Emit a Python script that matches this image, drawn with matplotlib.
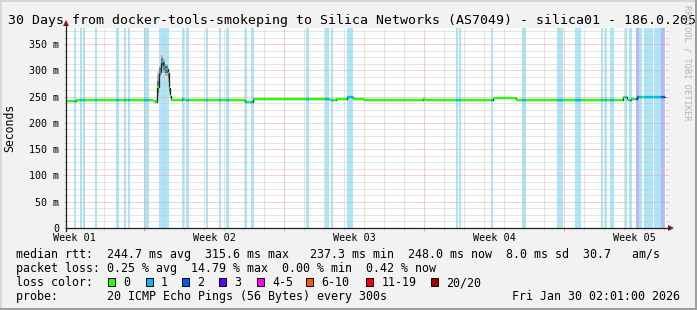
import matplotlib
matplotlib.use('Agg')
import matplotlib.pyplot as plt
from matplotlib.patches import Rectangle, Polygon
from matplotlib.lines import Line2D
import numpy as np

# ---------------- data ----------------
title = "30 Days from docker-tools-smokeping to Silica Networks (AS7049) - silica01 - 186.0.205"
y_ticks = [0, 50, 100, 150, 200, 250, 300, 350]
y_tick_labels = ["0", "50 m", "100 m", "150 m", "200 m", "250 m", "300 m", "350 m"]
week_labels = ["Week 01", "Week 02", "Week 03", "Week 04", "Week 05"]
week_label_days = [0.43, 7.43, 14.43, 21.43, 28.43]
week_line_days = [3.92, 10.92, 17.92, 24.92]

# median rtt (ms), step breakpoints, x in days since start of the 30-day window
median_days = [0.0, 0.5, 1.6, 1.85, 2.5, 2.9, 3.25, 3.7, 3.95, 4.365, 4.465,
               4.565, 4.665, 4.75, 4.865, 4.95, 5.085, 5.15, 5.2, 5.25,
               5.8, 5.925, 7.2, 8.95, 9.35, 10.1, 12.95, 13.2, 13.5, 14.05,
               14.365, 14.875, 17.85, 17.95, 21.35, 22.5, 27.85, 28.05, 28.25,
               28.55, 29.97]
median_ms = [242.5, 244.3, 243.6, 244.3, 244.0, 243.6, 244.2, 243.0, 243.7, 242.4, 240.0,
             267.8, 297.5, 315.6, 307.0, 302.0, 294.5, 266.0, 251.3, 243.3,
             246.0, 243.3, 244.2, 239.3, 245.0, 246.1, 244.8, 243.3, 246.1, 249.5,
             246.5, 244.2, 244.9, 244.2, 248.1, 244.2, 250.0, 243.3, 246.1,
             249.5, 249.0]

# smoke (spread of the 20 pings) around the latency spike
smoke_days = [4.465, 4.565, 4.665, 4.75, 4.865, 4.95, 5.085, 5.15, 5.2, 5.25]
smoke_lo = [238, 243, 282, 301, 290, 284, 270, 252, 245, 242]
smoke_hi = [246, 300, 314, 335, 329, 316, 300, 276, 256, 246]

# packet-loss periods (days) and number of lost pings
loss_start = [0.40, 0.70, 0.85, 1.45, 2.50, 2.90, 3.10, 3.90, 4.65, 5.80, 6.00,
              7.00, 7.65, 8.00, 8.95, 9.25, 12.00, 12.95, 13.25, 14.05,
              19.50, 19.65, 21.25, 22.80, 24.55, 25.45, 26.75, 26.95, 27.20,
              27.95, 28.15, 28.50, 28.65, 28.90, 29.40, 29.75]
loss_end = [0.50, 0.80, 0.925, 1.55, 2.65, 3.00, 3.20, 4.15, 5.15, 5.90, 6.15,
            7.10, 7.75, 8.15, 9.05, 9.40, 12.15, 13.15, 13.35, 14.35,
            19.60, 19.75, 21.35, 23.00, 24.85, 25.75, 26.85, 27.05, 27.40,
            28.05, 28.30, 28.65, 28.80, 29.35, 29.75, 29.95]
loss_count = [1, 1, 1, 1, 1, 1, 1, 1, 1, 1, 1,
              1, 1, 1, 1, 1, 1, 1, 1, 1,
              1, 1, 1, 1, 1, 1, 1, 1, 1,
              1, 1, 2, 1, 1, 1, 2]

loss_labels = ["0", "1", "2", "3", "4-5", "6-10", "11-19", "20/20"]
loss_colors = ['#26ff00', '#00b8ff', '#0059ff', '#5e00ff', '#ff00ff', '#ff5500', '#ff0000', '#a10000']

legend_rows = [
    "median rtt:  244.7 ms avg  315.6 ms max   237.3 ms min  248.0 ms now  8.0 ms sd  30.7   am/s",
    "packet loss: 0.25 % avg  14.79 % max  0.00 % min  0.42 % now",
]
probe_text = "probe:       20 ICMP Echo Pings (56 Bytes) every 300s"
date_text = "Fri Jan 30 02:01:00 2026"

# ---------------- layout / style ----------------
W, H = 697, 310
MONO = 'DejaVu Sans Mono'
band_fill = {1: '#aae5fa', 2: '#b9b6f6'}
GRID = '#cbcbcb'
MGRID = '#efa0a0'
ARROW = '#801f1f'


def fx(x):
    return x / W


def fy(y):
    return 1 - y / H


fig = plt.figure(figsize=(W / 100, H / 100), dpi=100, facecolor='#f2f2f2')
X0, Y0, PW, PH = 66, 228, 600, 200
ax = fig.add_axes([fx(X0), fy(Y0), PW / W, PH / H])
ax.set_facecolor('white')
YMAX = 380.7
ax.set_xlim(0, 30)
ax.set_ylim(0, YMAX)
for s in ax.spines.values():
    s.set_visible(False)

# loss background bands
for s, e, c in zip(loss_start, loss_end, loss_count):
    ax.axvspan(s, e, color=band_fill[c], lw=0, zorder=1)

# grid
dot = (0, (1, 1))
minor_y = [v for v in np.arange(12.5, YMAX, 12.5) if v % 50 != 0]
major_y = [v for v in y_ticks if v > 0]
minor_x = [d + 0.92 for d in range(30) if (d + 0.92) not in week_line_days]
for v in minor_y:
    ax.axhline(v, color=GRID, lw=0.72, ls=dot, zorder=2)
for v in minor_x:
    ax.axvline(v, color=GRID, lw=0.72, ls=dot, zorder=2)
for v in major_y:
    ax.axhline(v, color=MGRID, lw=0.72, ls=dot, zorder=2.1)
for v in week_line_days:
    ax.axvline(v, color=MGRID, lw=0.72, ls=dot, zorder=2.1)

# ticks
ax.set_yticks(y_ticks)
ax.set_yticklabels(y_tick_labels, fontfamily=MONO, fontsize=7.2)
ax.set_yticks(minor_y, minor=True)
ax.set_xticks(week_line_days)
ax.set_xticklabels([])
ax.set_xticks(minor_x, minor=True)
ax.tick_params(axis='y', which='major', direction='out', length=1.5, width=0.72,
               color=MGRID, pad=3.3, left=True, right=True)
ax.tick_params(axis='y', which='minor', direction='out', length=1.5, width=0.72,
               color=GRID, left=True, right=True)
ax.tick_params(axis='x', which='major', direction='out', length=2.2, width=0.72,
               color=MGRID, bottom=True)
ax.tick_params(axis='x', which='minor', direction='out', length=1.5, width=0.72,
               color=GRID, bottom=True)

# smoke
sd = np.array(smoke_days)
mid = np.interp(sd, median_days, median_ms)
lo = np.array(smoke_lo, float)
hi = np.array(smoke_hi, float)
for frac, col in [(1.0, '#dcdcdc'), (0.7, '#b0b0b0'), (0.4, '#6e6e6e')]:
    ax.fill_between(sd, mid - (mid - lo) * frac, mid + (hi - mid) * frac,
                    step='post', color=col, lw=0, zorder=3)

# median line
ax.step(median_days, median_ms, where='post', color='#202020', lw=0.9, zorder=4)
md = np.array(median_days)
mm = np.array(median_ms)
ax.hlines(mm[:-1], md[:-1], md[1:], colors=loss_colors[0], lw=1.6, zorder=5)
for s, e, c in zip(loss_start, loss_end, loss_count):
    lc = ax.hlines(mm[:-1], md[:-1], md[1:], colors=loss_colors[c], lw=1.6, zorder=5.1)
    lc.set_clip_path(Rectangle((s, 0), e - s, YMAX, transform=ax.transData))

# axes lines & arrows (figure pixels)
axis_col = '#1f1f1f'
fig.add_artist(Line2D([fx(X0), fx(669)], [fy(Y0), fy(Y0)], color=axis_col, lw=0.9))
fig.add_artist(Line2D([fx(X0), fx(X0)], [fy(Y0 + 3), fy(25)], color=axis_col, lw=0.9))
fig.add_artist(Polygon([[fx(668), fy(225)], [fx(674), fy(228)], [fx(668), fy(231)]],
                       closed=True, color=ARROW, lw=0, transform=fig.transFigure))
fig.add_artist(Polygon([[fx(63), fy(26)], [fx(66), fy(20)], [fx(69), fy(26)]],
                       closed=True, color=ARROW, lw=0, transform=fig.transFigure))

# week labels
for d, lab in zip(week_label_days, week_labels):
    ax.text(d, (Y0 - 241) / PH, lab, transform=ax.get_xaxis_transform(),
            ha='center', va='baseline', fontfamily=MONO, fontsize=7.3)

# titles and side texts
fig.text(fx(8.3), fy(24), title, ha='left', va='baseline', fontfamily=MONO, fontsize=9.55)
fig.text(fx(10), fy(128), "Seconds", rotation=90, ha='center', va='center',
         fontfamily=MONO, fontsize=8.3)
fig.text(fx(687), fy(5), "RRDTOOL / TOBI OETIKER", rotation=270, ha='center', va='top',
         fontfamily=MONO, fontsize=6.3, color='#b4b4b4')

# legend
LEG = 8.37
fig.text(fx(16), fy(258), legend_rows[0], ha='left', va='baseline', fontfamily=MONO, fontsize=LEG)
fig.text(fx(16), fy(272), legend_rows[1], ha='left', va='baseline', fontfamily=MONO, fontsize=LEG)
fig.text(fx(16), fy(286), "loss color:", ha='left', va='baseline', fontfamily=MONO, fontsize=LEG)
box_x = [108, 145.7, 182, 219, 256.7, 305.7, 366, 431]
for bx, lab, col in zip(box_x, loss_labels, loss_colors):
    fig.add_artist(Rectangle((fx(bx), fy(285.5)), 7 / W, 8 / H, transform=fig.transFigure,
                             facecolor=col, edgecolor='black', lw=0.7))
    fig.text(fx(bx + 15.3), fy(286), lab, ha='left', va='baseline', fontfamily=MONO, fontsize=LEG)
fig.text(fx(16), fy(300), probe_text, ha='left', va='baseline', fontfamily=MONO, fontsize=LEG)
fig.text(fx(680.5), fy(300), date_text, ha='right', va='baseline', fontfamily=MONO, fontsize=LEG)

# 3D frame
fig.add_artist(Line2D([0, 1], [fy(0.75), fy(0.75)], color='#cfcfcf', lw=1.1))
fig.add_artist(Line2D([fx(0.75), fx(0.75)], [0, 1], color='#cfcfcf', lw=1.1))
fig.add_artist(Line2D([0, 1], [fy(H - 1.5), fy(H - 1.5)], color='#9e9e9e', lw=2.2))
fig.add_artist(Line2D([fx(W - 1.5), fx(W - 1.5)], [0, 1], color='#9e9e9e', lw=2.2))

fig.savefig('out.png', dpi=100, facecolor=fig.get_facecolor())
